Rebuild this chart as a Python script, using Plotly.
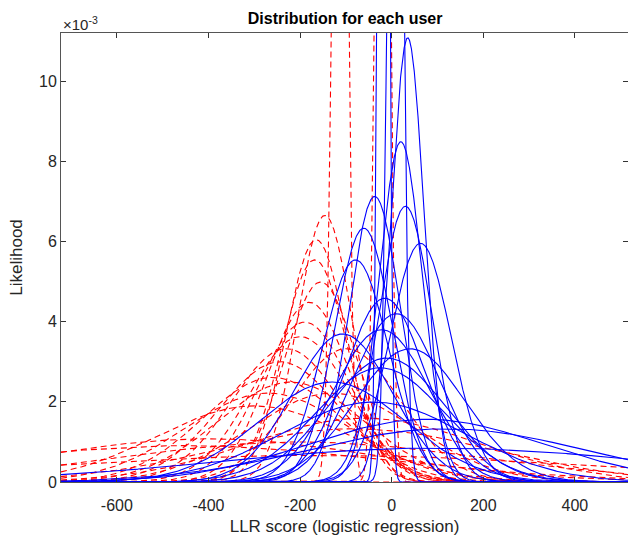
import numpy as np
import plotly.graph_objects as go

# ---- data: per-user normal distribution parameters ----
# genuine users (blue, solid): mean and standard deviation of LLR score
blue_means = [-18, 8, 35, 20, -37, 30, -61, 63, -79, -15, -107, -22, -11, -25,
              75, 120, 100, -40, -130, 40, 10]
blue_stds = [9, 14, 36, 47, 56, 58, 63, 67, 72, 87, 108, 105, 129, 140,
             255, 300, 470, 200, 160, 120, 95]

# impostors (red, dashed)
red_means = [-113, -20, -146, -165, -168, -180, -200, -244, -260, -130,
             -400, -450, -200, -100, -60, -150, -300, -220, -80,
             -230, -190, -270, -155]
red_stds = [14, 13, 60, 66, 72, 89, 110, 133, 153, 180,
            370, 440, 400, 120, 250, 600, 210, 160, 300,
            120, 100, 180, 80]

x_range = [-722, 516]
y_range = [0, 0.0112]
x_ticks = [-600, -400, -200, 0, 200, 400]
y_ticks = [0, 0.002, 0.004, 0.006, 0.008, 0.010]
y_tick_text = ["0", "2", "4", "6", "8", "10"]

x = np.linspace(x_range[0], x_range[1], 3000)


def normal_pdf(xx, m, s):
    return np.exp(-0.5 * ((xx - m) / s) ** 2) / (s * np.sqrt(2 * np.pi))


fig = go.Figure()
for m, s in zip(red_means, red_stds):
    fig.add_trace(go.Scatter(x=x, y=normal_pdf(x, m, s), mode="lines",
                             line=dict(color="#ff0000", width=1.1, dash="6px,4px"),
                             showlegend=False, hoverinfo="skip"))
for m, s in zip(blue_means, blue_stds):
    fig.add_trace(go.Scatter(x=x, y=normal_pdf(x, m, s), mode="lines",
                             line=dict(color="#0000ff", width=1.1),
                             showlegend=False, hoverinfo="skip"))

font_family = "Liberation Sans, Arial"
axis_common = dict(showline=True, linecolor="#555555", linewidth=1, mirror="ticks",
                   ticks="inside", ticklen=5, tickcolor="#333333", showgrid=False,
                   zeroline=False, tickfont=dict(family=font_family, size=16, color="#262626"))

fig.update_layout(
    width=628, height=545,
    margin=dict(l=61, r=0, t=33, b=63),
    paper_bgcolor="white", plot_bgcolor="white",
    title=dict(text="<b>Distribution for each user</b>", x=0.5495, xanchor="center",
               y=0.966, yanchor="middle",
               font=dict(family=font_family, size=16, color="#000000")),
    xaxis=dict(range=x_range, tickvals=x_ticks, ticktext=[str(v) for v in x_ticks],
               ticklabelstandoff=9,
               title=dict(text="LLR score (logistic regression)", standoff=6,
                          font=dict(family=font_family, size=17, color="#262626")),
               **axis_common),
    yaxis=dict(range=y_range, tickvals=y_ticks, ticktext=y_tick_text,
               title=dict(text="Likelihood", standoff=12,
                          font=dict(family=font_family, size=17, color="#262626")),
               **axis_common),
    annotations=[dict(text="×10<sup>-3</sup>", x=0, y=1, xref="paper", yref="paper",
                      xanchor="left", yanchor="bottom", showarrow=False, yshift=-2,
                      font=dict(family=font_family, size=15, color="#262626"))],
)

fig.write_html("out.html")
